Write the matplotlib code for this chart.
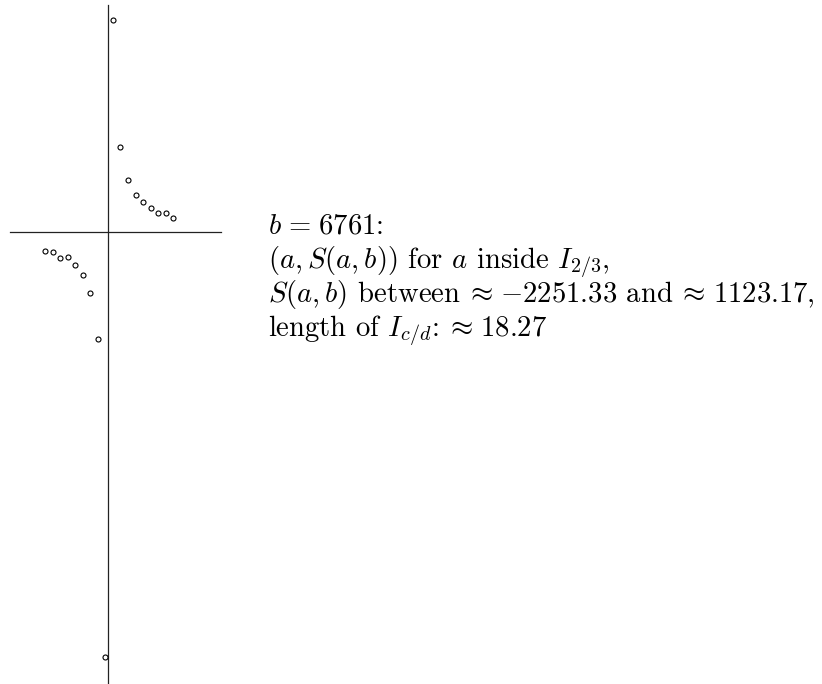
import matplotlib
matplotlib.use("Agg")
import matplotlib.pyplot as plt

plt.rcParams['mathtext.fontset'] = 'cm'
plt.rcParams['axes.unicode_minus'] = False

b_value = 6761
a_left = [4499, 4500, 4501, 4502, 4503, 4504, 4505, 4506, 4507]
s_left = [-98, -104, -136, -133, -173, -226, -321, -566, -2251.33]
a_right = [4508, 4509, 4510, 4511, 4512, 4513, 4514, 4515, 4516]
s_right = [1123.17, 449, 276, 199, 161, 130, 103, 100, 76]
pole_a = 2 * b_value / 3

W, H = 822, 684
fig = plt.figure(figsize=(W / 100, H / 100), dpi=100)
ax = fig.add_axes([0, 0, 1, 1])
ax.axis('off')

# pixel mapping
dx = 7.547
x0 = a_left[0] - 45 / dx
x1 = a_left[0] + (W - 45) / dx
sy = 5.295
y_top = 232.1 * sy
y_bot = -(H - 232.1) * sy
ax.set_xlim(x0, x1)
ax.set_ylim(y_bot, y_top)

# axes lines
ax.plot([a_left[0] - 35 / dx, a_left[0] + 175.7 / dx], [0, 0], color='#222222', lw=0.9)
ax.plot([pole_a, pole_a], [(232.1 - 5) * sy, -(683.5 - 232.1) * sy], color='#222222', lw=0.9)

ax.plot(a_left + a_right, s_left + s_right, linestyle='none', marker='o',
        markersize=3.6, markerfacecolor='white', markeredgecolor='black',
        markeredgewidth=0.8)

lines = [
    r"$b\hspace{0.12}=\hspace{0.12}6761$:",
    r"$(a, S(a, b))$ for $a$ inside $I_{2/3}$,",
    r"$S(a, b)$ between $\hspace{-0.15}\approx\hspace{0.12}{-}2251.33$ and $\hspace{-0.15}\approx\hspace{0.12}1123.17$,",
    r"length of $I_{c/d}$: $\hspace{-0.15}\approx\hspace{0.12}18.27$",
]
baselines = [234, 268, 302, 336]
texts = []
for t, yb in zip(lines, baselines):
    texts.append(fig.text(268 / W, 1 - yb / H, t, fontsize=19.5, family='cmr10',
                          va='baseline', ha='left'))

# fit font size so the longest line spans the same width as in the reference
renderer = fig.canvas.get_renderer()
w3 = texts[2].get_window_extent(renderer).width
fs = 19.5 * 547.0 / w3
fs = max(17.5, min(21.5, fs))
for t in texts:
    t.set_fontsize(fs)

fig.savefig('out.png', dpi=100)
